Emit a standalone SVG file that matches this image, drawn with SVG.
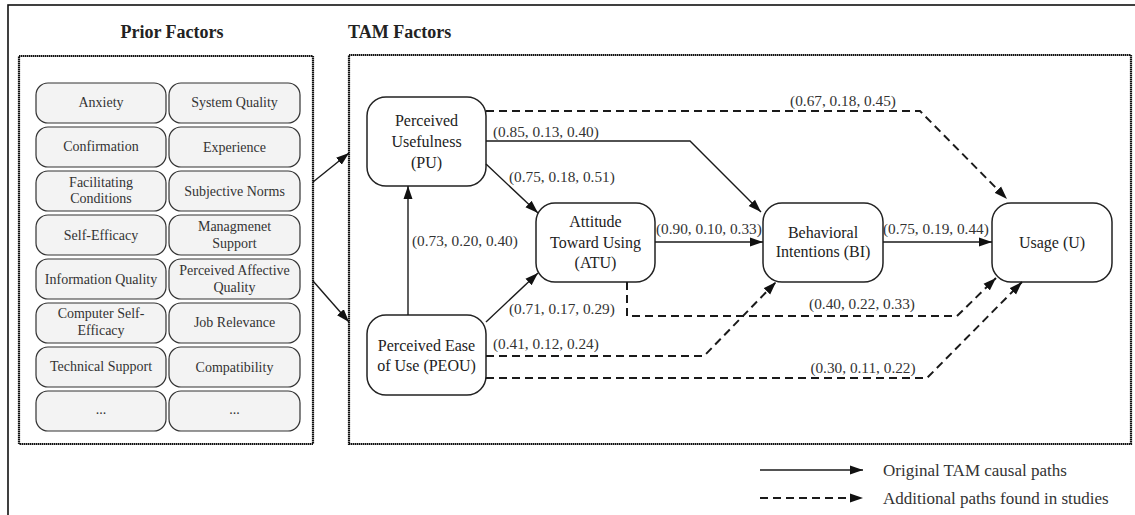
<svg xmlns="http://www.w3.org/2000/svg" width="1135" height="515" viewBox="0 0 1135 515">
  <style>
    text { font-family: "Liberation Serif", "DejaVu Serif", "Times New Roman", Times, serif; }
    .frame { fill: none; stroke: #111; stroke-width: 1.6; }
    .group { fill: none; stroke: #111; stroke-width: 2.2; stroke-dasharray: 1.5 0.5; }
    .title { font-weight: bold; font-size: 18px; fill: #222; }
    .pf rect { fill: #f3f3f3; stroke: #333; stroke-width: 1.2; }
    .pf text { font-size: 14px; fill: #333; text-anchor: middle; }
    .tam rect { fill: #fff; stroke: #222; stroke-width: 1.5; }
    .tam text { font-size: 16px; fill: #222; text-anchor: middle; }
    .solid { fill: none; stroke: #1a1a1a; stroke-width: 1.4; marker-end: url(#head); }
    .dash { fill: none; stroke: #1a1a1a; stroke-width: 2; stroke-dasharray: 8 5; marker-end: url(#head); }
    .lbl { font-size: 15.3px; fill: #333; }
    .mid { text-anchor: middle; }
    .legend { font-size: 17px; fill: #333; }
  </style>
  <defs>
    <marker id="head" markerUnits="userSpaceOnUse" markerWidth="14" markerHeight="10" refX="13" refY="5" orient="auto">
      <path d="M0,0.5 L13,5 L0,9.5 Z" fill="#111"/>
    </marker>
  </defs>

  <rect width="1135" height="515" fill="#fff"/>
  <!-- outer frame (runs off the right and bottom edges) -->
  <rect class="frame" x="8" y="5" width="1140" height="530"/>

  <text class="title" x="172" y="38" text-anchor="middle">Prior Factors</text>
  <text class="title" x="348" y="38">TAM Factors</text>

  <rect class="group" x="19" y="56" width="294" height="388"/>
  <rect class="group" x="349" y="55" width="782" height="389"/>

  <!-- prior factors grid -->
  <g id="anxiety" class="pf"><rect x="36" y="83" width="130" height="40" rx="12"/><text x="101" y="107">Anxiety</text></g>
  <g id="system-quality" class="pf"><rect x="169" y="83" width="131" height="40" rx="12"/><text x="234.5" y="107">System Quality</text></g>
  <g id="confirmation" class="pf"><rect x="36" y="127" width="130" height="40" rx="12"/><text x="101" y="151">Confirmation</text></g>
  <g id="experience" class="pf"><rect x="169" y="127" width="131" height="40" rx="12"/><text x="234.5" y="152">Experience</text></g>
  <g id="facilitating-conditions" class="pf"><rect x="36" y="171" width="130" height="40" rx="12"/><text x="101" y="187">Facilitating</text><text x="101" y="203">Conditions</text></g>
  <g id="subjective-norms" class="pf"><rect x="169" y="171" width="131" height="40" rx="12"/><text x="234.5" y="196">Subjective Norms</text></g>
  <g id="self-efficacy" class="pf"><rect x="36" y="215" width="130" height="40" rx="12"/><text x="101" y="240">Self-Efficacy</text></g>
  <g id="management-support" class="pf"><rect x="169" y="215" width="131" height="40" rx="12"/><text x="234.5" y="231">Managmenet</text><text x="234.5" y="248">Support</text></g>
  <g id="information-quality" class="pf"><rect x="36" y="259" width="130" height="40" rx="12"/><text x="101" y="284">Information Quality</text></g>
  <g id="perceived-affective-quality" class="pf"><rect x="169" y="259" width="131" height="40" rx="12"/><text x="234.5" y="275">Perceived Affective</text><text x="234.5" y="292">Quality</text></g>
  <g id="computer-self-efficacy" class="pf"><rect x="36" y="303" width="130" height="40" rx="12"/><text x="101" y="318">Computer Self-</text><text x="101" y="335">Efficacy</text></g>
  <g id="job-relevance" class="pf"><rect x="169" y="303" width="131" height="40" rx="12"/><text x="234.5" y="327">Job Relevance</text></g>
  <g id="technical-support" class="pf"><rect x="36" y="347" width="130" height="40" rx="12"/><text x="101" y="371">Technical Support</text></g>
  <g id="compatibility" class="pf"><rect x="169" y="347" width="131" height="40" rx="12"/><text x="234.5" y="372">Compatibility</text></g>
  <g id="more-left" class="pf"><rect x="36" y="391" width="130" height="40" rx="12"/><text x="101" y="414">...</text></g>
  <g id="more-right" class="pf"><rect x="169" y="391" width="131" height="40" rx="12"/><text x="234.5" y="414">...</text></g>

  <!-- TAM constructs -->
  <g id="pu" class="tam"><rect x="367" y="97" width="119" height="89" rx="19"/><text x="426.5" y="126">Perceived</text><text x="426.5" y="147">Usefulness</text><text x="426.5" y="168">(PU)</text></g>
  <g id="atu" class="tam"><rect x="536" y="203" width="119" height="79" rx="19"/><text x="595.5" y="227">Attitude</text><text x="595.5" y="248">Toward Using</text><text x="595.5" y="268">(ATU)</text></g>
  <g id="peou" class="tam"><rect x="367" y="315" width="119" height="80" rx="19"/><text x="426.5" y="351">Perceived Ease</text><text x="426.5" y="371">of Use (PEOU)</text></g>
  <g id="bi" class="tam"><rect x="763" y="203" width="120" height="79" rx="19"/><text x="823" y="238">Behavioral</text><text x="823" y="257">Intentions (BI)</text></g>
  <g id="usage" class="tam"><rect x="992" y="203" width="120" height="79" rx="19"/><text x="1052" y="248">Usage (U)</text></g>

  <!-- paths -->
  <g id="connectors">
    <path class="solid" d="M313,182 L349,153"/>
    <path class="solid" d="M313,281 L349,322"/>
    <path class="solid" d="M408,315 V186"/>
    <path class="solid" d="M486,164 L538,213"/>
    <path class="solid" d="M486,141 H690 L761,212"/>
    <path class="solid" d="M655,242 H763"/>
    <path class="solid" d="M883,242 H992"/>
    <path class="solid" d="M486,322 L538,273"/>
    <path class="dash" d="M486,111 H920 L1007,199"/>
    <path class="dash" d="M627,282 V316 H957 L996,278"/>
    <path class="dash" d="M486,356 H704 L776,282"/>
    <path class="dash" d="M486,378 H927 L1022,282"/>
  </g>

  <g id="labels">
    <text class="lbl mid" x="843" y="106">(0.67, 0.18, 0.45)</text>
    <text class="lbl" x="493" y="137">(0.85, 0.13, 0.40)</text>
    <text class="lbl" x="509" y="182">(0.75, 0.18, 0.51)</text>
    <text class="lbl" x="412" y="246">(0.73, 0.20, 0.40)</text>
    <text class="lbl" x="656" y="233.5">(0.90, 0.10, 0.33)</text>
    <text class="lbl" x="883" y="233.5">(0.75, 0.19, 0.44)</text>
    <text class="lbl" x="509" y="314">(0.71, 0.17, 0.29)</text>
    <text class="lbl mid" x="862" y="309">(0.40, 0.22, 0.33)</text>
    <text class="lbl" x="493" y="349">(0.41, 0.12, 0.24)</text>
    <text class="lbl mid" x="863" y="373">(0.30, 0.11, 0.22)</text>
  </g>

  <!-- legend -->
  <g id="legend">
    <path class="solid" d="M760,470 H863"/>
    <text class="legend" x="883" y="476">Original TAM causal paths</text>
    <path class="dash" d="M760,498 H863"/>
    <text class="legend" x="883" y="504">Additional paths found in studies</text>
  </g>
</svg>
